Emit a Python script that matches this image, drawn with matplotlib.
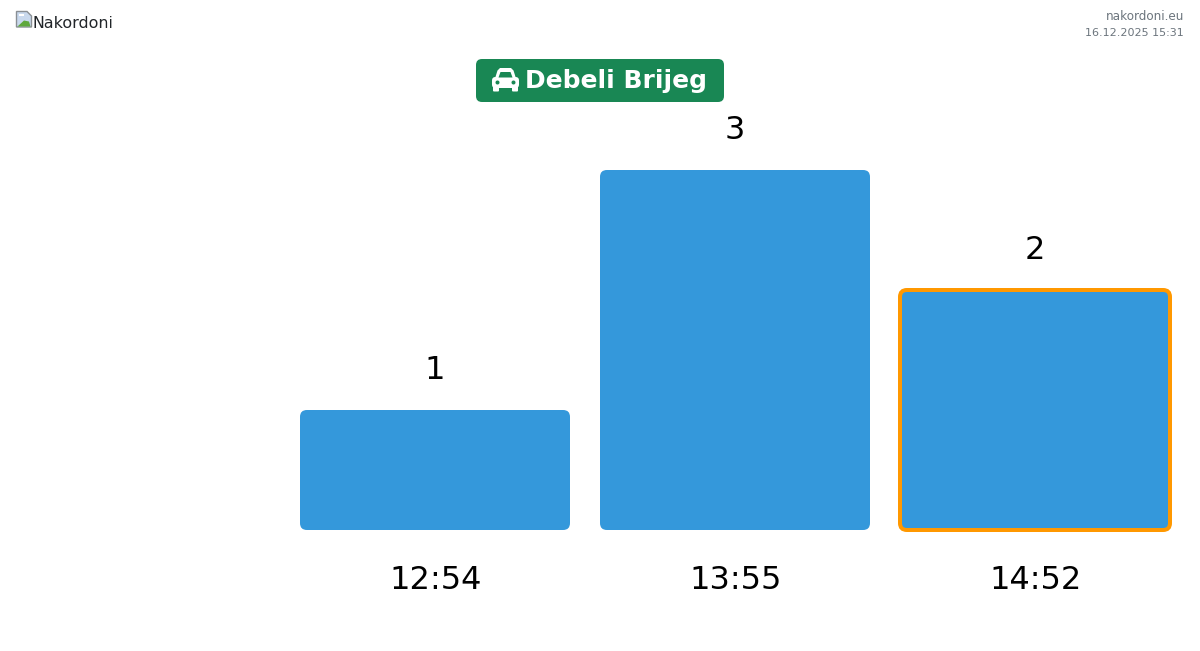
import matplotlib
matplotlib.use('Agg')
from matplotlib import pyplot as plt
from matplotlib.patches import FancyBboxPatch, Polygon, Circle, Rectangle

times = ['12:54', '13:55', '14:52']
counts = [1, 3, 2]
current = '14:52'
place = 'Debeli Brijeg'
site = 'nakordoni.eu'
stamp = '16.12.2025 15:31'
logo_alt = 'Nakordoni'

BLUE = '#3498db'
ORANGE = '#ff9800'
GREEN = '#198754'
W, H = 1200, 651

fig = plt.figure(figsize=(12, 6.51), dpi=100, facecolor='white')

# chart area: one slot is 300px wide, one count is 120px high
ax = fig.add_axes([285 / W, (H - 530) / H, 900 / W, 360 / H])
ax.set_xlim(-0.5, 2.5)
ax.set_ylim(0, 3)
ax.axis('off')

bar_w = 0.9
for i, (t, c) in enumerate(zip(times, counts)):
    hi = t == current
    box = FancyBboxPatch((i - bar_w / 2, 0), bar_w, c,
                         boxstyle='round,pad=0,rounding_size=0.023',
                         mutation_aspect=2.5,
                         facecolor=BLUE,
                         edgecolor=ORANGE if hi else 'none',
                         linewidth=2.88 if hi else 0,
                         clip_on=False)
    ax.add_patch(box)
    ax.annotate(str(c), (i, c), xytext=(0, 43), textcoords='offset pixels',
                ha='center', va='center_baseline', fontsize=23, color='black')
    ax.annotate(t, (i, 0), xytext=(0.2, -50.5), textcoords='offset pixels',
                ha='center', va='center', fontsize=23, color='black')

# overlay in pixel coordinates for the header
top = fig.add_axes([0, 0, 1, 1], zorder=5)
top.set_xlim(0, W)
top.set_ylim(H, 0)
top.axis('off')

# title badge
top.add_patch(FancyBboxPatch((476, 59), 248, 43,
                             boxstyle='round,pad=0,rounding_size=6',
                             facecolor=GREEN, edgecolor='none'))
top.text(525, 81, place, ha='left', va='center', fontsize=18,
         fontweight='bold', color='white')

# car icon
top.add_patch(FancyBboxPatch((492, 77), 27, 11,
                             boxstyle='round,pad=0,rounding_size=3.5',
                             facecolor='white', edgecolor='none'))
top.add_patch(Polygon([(494.5, 80), (497.5, 70.5), (500, 68), (511, 68),
                       (513.5, 70.5), (516.5, 80)],
                      closed=True, facecolor='white', edgecolor='none'))
top.add_patch(Polygon([(498.5, 77.5), (500.5, 72), (510.5, 72), (512.5, 77.5)],
                      closed=True, facecolor=GREEN, edgecolor='none'))
top.add_patch(Circle((497.5, 82.5), 2, facecolor=GREEN, edgecolor='none'))
top.add_patch(Circle((513.5, 82.5), 2, facecolor=GREEN, edgecolor='none'))
top.add_patch(FancyBboxPatch((493, 86), 6, 5.5,
                             boxstyle='round,pad=0,rounding_size=1',
                             facecolor='white', edgecolor='none'))
top.add_patch(FancyBboxPatch((512, 86), 6, 5.5,
                             boxstyle='round,pad=0,rounding_size=1',
                             facecolor='white', edgecolor='none'))

# broken image placeholder
top.add_patch(Polygon([(16.5, 11.5), (27, 11.5), (31.5, 16), (31.5, 27), (16.5, 27)],
                      closed=True, facecolor='#c9d9ee', edgecolor='#8a8f94', linewidth=1))
top.add_patch(Polygon([(17.5, 26.5), (24, 20.5), (29, 21.5), (30.5, 26.5)],
                      closed=True, facecolor='#5fa83c', edgecolor='none'))
top.add_patch(Rectangle((19, 14), 5, 2, facecolor='white', edgecolor='none'))
top.text(32.5, 23, logo_alt, ha='left', va='center', fontsize=11.4, color='#212529')

# site and timestamp
top.text(1184, 16.5, site, ha='right', va='center', fontsize=8.64, color='#6c757d')
top.text(1184, 32.5, stamp, ha='right', va='center', fontsize=8.0, color='#6c757d')

fig.savefig('out.png', dpi=100, facecolor='white')
plt.close(fig)
